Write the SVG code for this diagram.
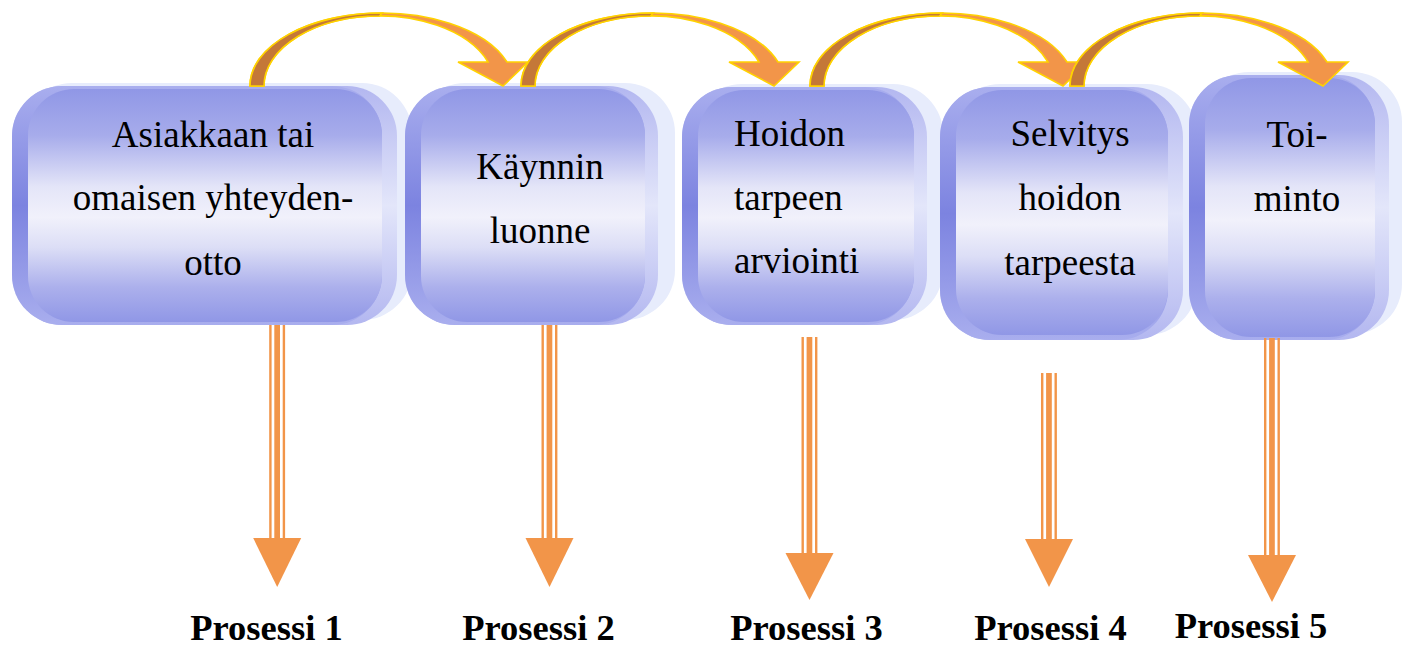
<svg xmlns="http://www.w3.org/2000/svg" width="1403" height="648" viewBox="0 0 1403 648">
<defs>
<linearGradient id="rimDark" x1="0" y1="0" x2="0" y2="1">
<stop offset="0" stop-color="#A9AEEE"/>
<stop offset="0.5" stop-color="#7C83E0"/>
<stop offset="1" stop-color="#A9AEEE"/>
</linearGradient>
<linearGradient id="rimLight" x1="0" y1="0" x2="0" y2="1">
<stop offset="0" stop-color="#B3B7F0"/>
<stop offset="0.5" stop-color="#E3E6FA"/>
<stop offset="1" stop-color="#B3B7F0"/>
</linearGradient>
<linearGradient id="face" x1="0" y1="0" x2="0" y2="1">
<stop offset="0" stop-color="#9097E6"/>
<stop offset="0.2" stop-color="#A7ACEB"/>
<stop offset="0.42" stop-color="#E4E5F8"/>
<stop offset="0.55" stop-color="#F1F1FB"/>
<stop offset="0.68" stop-color="#DCDEF6"/>
<stop offset="0.85" stop-color="#ACB0EC"/>
<stop offset="1" stop-color="#9097E6"/>
</linearGradient>
<path id="curved" d="M0,86 A132.2,73 0 0 1 257,62 L278,62 L253,86 L208,62 L238,62 A115.5,70 0 0 0 14,86 Z"/>
<path id="curvedBack" d="M0,86 A132.2,73 0 0 1 132.2,13 L129.5,16 A115.5,70 0 0 0 14,86 Z"/>
</defs>
<style>
.back{fill:#E7ECFC}
.rimL{fill:url(#rimLight)}
.rimD{fill:url(#rimDark)}
.face{fill:url(#face)}
.t{font-family:"Liberation Serif","Times New Roman",serif;font-size:37px;fill:#000}
.lbl{font-family:"Liberation Serif","Times New Roman",serif;font-size:36.5px;font-weight:bold;fill:#000;text-anchor:middle}
.c{text-anchor:middle}
.arc{fill:#F29549;stroke:#FFD200;stroke-width:1.6;stroke-linejoin:miter}
.arcb{fill:#C47838;stroke:#FFD200;stroke-width:1.6}
.ln{fill:#F29549}
</style>
<rect width="1403" height="648" fill="#FFFFFF"/>

<g id="node1">
<rect class="back" x="22" y="83" width="390" height="237" rx="50"/>
<rect class="rimL" x="12" y="86" width="385" height="239" rx="50"/>
<rect class="rimD" x="12" y="86" width="370" height="239" rx="50"/>
<rect class="face" x="28" y="89" width="354" height="233" rx="46"/>
<text class="t c" x="213" y="147">Asiakkaan tai</text>
<text class="t c" x="213" y="210">omaisen yhteyden-</text>
<text class="t c" x="213" y="275">otto</text>
</g>

<g id="node2">
<rect class="back" x="415" y="83" width="260" height="237" rx="50"/>
<rect class="rimL" x="405" y="86" width="253" height="239" rx="50"/>
<rect class="rimD" x="405" y="86" width="240" height="239" rx="50"/>
<rect class="face" x="421" y="89" width="224" height="233" rx="46"/>
<text class="t c" x="540" y="179">Käynnin</text>
<text class="t c" x="540" y="243">luonne</text>
</g>

<g id="node3">
<rect class="back" x="692" y="84" width="251" height="236" rx="50"/>
<rect class="rimL" x="682" y="87" width="245" height="238" rx="50"/>
<rect class="rimD" x="682" y="87" width="232" height="238" rx="50"/>
<rect class="face" x="698" y="90" width="216" height="232" rx="46"/>
<text class="t" x="734" y="146">Hoidon</text>
<text class="t" x="734" y="210">tarpeen</text>
<text class="t" x="734" y="273">arviointi</text>
</g>

<g id="node4">
<rect class="back" x="950" y="84" width="247" height="251" rx="50"/>
<rect class="rimL" x="940" y="87" width="243" height="253" rx="50"/>
<rect class="rimD" x="940" y="87" width="228" height="253" rx="50"/>
<rect class="face" x="956" y="90" width="212" height="245" rx="46"/>
<text class="t c" x="1070" y="146">Selvitys</text>
<text class="t c" x="1070" y="210">hoidon</text>
<text class="t c" x="1070" y="275">tarpeesta</text>
</g>

<g id="node5">
<rect class="back" x="1199" y="72" width="203" height="262" rx="50"/>
<rect class="rimL" x="1189" y="75" width="200" height="265" rx="50"/>
<rect class="rimD" x="1189" y="75" width="186" height="265" rx="50"/>
<rect class="face" x="1205" y="78" width="170" height="259" rx="46"/>
<text class="t c" x="1297" y="147">Toi-</text>
<text class="t c" x="1297" y="211">minto</text>
</g>

<g id="connectors">
<g transform="translate(250,0)"><use href="#curved" class="arc"/><use href="#curvedBack" class="arcb"/></g>
<g transform="translate(521,0)"><use href="#curved" class="arc"/><use href="#curvedBack" class="arcb"/></g>
<g transform="translate(810,0)"><use href="#curved" class="arc"/><use href="#curvedBack" class="arcb"/></g>
<g transform="translate(1070,0)"><use href="#curved" class="arc"/><use href="#curvedBack" class="arcb"/></g>

<g transform="translate(277.2,0)" class="ln">
<rect x="-8" y="325" width="2.4" height="214"/><rect x="-2.9" y="325" width="5.7" height="214"/><rect x="5.5" y="325" width="2.4" height="214"/>
<polygon points="-24,538 24,538 0,587"/>
</g>
<g transform="translate(549.5,0)" class="ln">
<rect x="-8" y="325" width="2.4" height="214"/><rect x="-2.9" y="325" width="5.7" height="214"/><rect x="5.5" y="325" width="2.4" height="214"/>
<polygon points="-24,538 24,538 0,587"/>
</g>
<g transform="translate(809.5,0)" class="ln">
<rect x="-8" y="337" width="2.4" height="217"/><rect x="-2.9" y="337" width="5.7" height="217"/><rect x="5.5" y="337" width="2.4" height="217"/>
<polygon points="-24,553 24,553 0,600"/>
</g>
<g transform="translate(1049,0)" class="ln">
<rect x="-8" y="373" width="2.4" height="167"/><rect x="-2.9" y="373" width="5.7" height="167"/><rect x="5.5" y="373" width="2.4" height="167"/>
<polygon points="-24,539 24,539 0,587"/>
</g>
<g transform="translate(1272,0)" class="ln">
<rect x="-8" y="338" width="2.4" height="218"/><rect x="-2.9" y="338" width="5.7" height="218"/><rect x="5.5" y="338" width="2.4" height="218"/>
<polygon points="-24,555 24,555 0,602"/>
</g>
</g>

<g id="labels">
<text class="lbl" x="266.5" y="640">Prosessi 1</text>
<text class="lbl" x="538.5" y="640">Prosessi 2</text>
<text class="lbl" x="806.5" y="640">Prosessi 3</text>
<text class="lbl" x="1050.5" y="640">Prosessi 4</text>
<text class="lbl" x="1251" y="638">Prosessi 5</text>
</g>
</svg>
